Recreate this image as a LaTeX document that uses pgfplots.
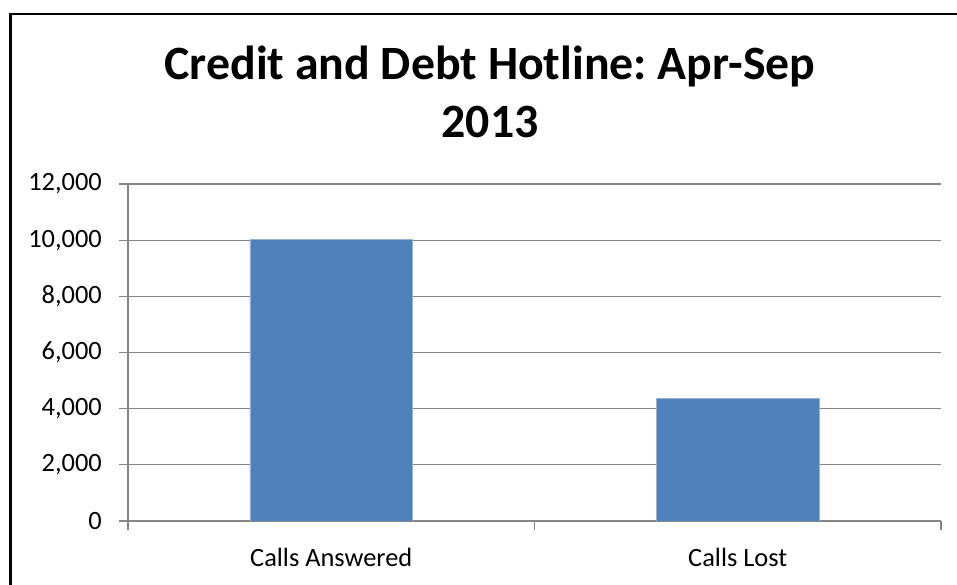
\documentclass[border=0pt]{standalone}
\usepackage{pgfplots}
\pgfplotsset{compat=1.18}
\usepackage{fontspec}
\setmainfont{Carlito}
\definecolor{barblue}{HTML}{4F81BD}
\definecolor{gridgray}{HTML}{868686}
\frenchspacing
\begin{document}
\begin{tikzpicture}[x=1bp,y=1bp]
\useasboundingbox (0,0) rectangle (957,585);
\path[fill=white] (0,0) rectangle (957,585);
\draw[black, line width=3bp] (10.7,0) -- (10.7,570.7);
\draw[black, line width=2.2bp] (9.2,570.7) -- (957,570.7);
\node[anchor=base, font=\bfseries\fontsize{48}{56}\selectfont, inner sep=0pt] at (490,505) {Credit and Debt Hotline: Apr-Sep};
\node[anchor=base, font=\bfseries\fontsize{48}{56}\selectfont, inner sep=0pt] at (490,447) {2013};
\begin{axis}[
  at={(128bp,64bp)}, anchor=south west,
  width=813bp, height=337bp, scale only axis,
  xmin=-0.5, xmax=1.5, ymin=0, ymax=12000,
  ytick={0,2000,...,12000},
  scaled y ticks=false,
  xtick={-0.5,0.5,1.5}, x tick label as interval,
  xticklabels={Calls Answered, Calls Lost},
  ymajorgrids, grid style={gridgray, line width=1.3bp},
  axis line style={gridgray, line width=1.3bp},
  axis x line*=bottom, axis y line*=left,
  tick align=outside,
  tick style={gridgray, line width=1.3bp},
  major tick length=9bp,
  ticklabel style={font=\fontsize{26.5}{31}\selectfont},
  y tick label style={inner sep=0pt, xshift=-17bp},
  x tick label style={inner sep=0pt, yshift=-18bp},
  /pgf/number format/.cd, fixed, 1000 sep={,}, assume math mode=true,
]
\addplot[ybar, bar width=0.4, fill=barblue, draw=barblue!60!white, line width=0.6bp] coordinates {(0,10040) (1,4370)};
\end{axis}
\end{tikzpicture}
\end{document}
